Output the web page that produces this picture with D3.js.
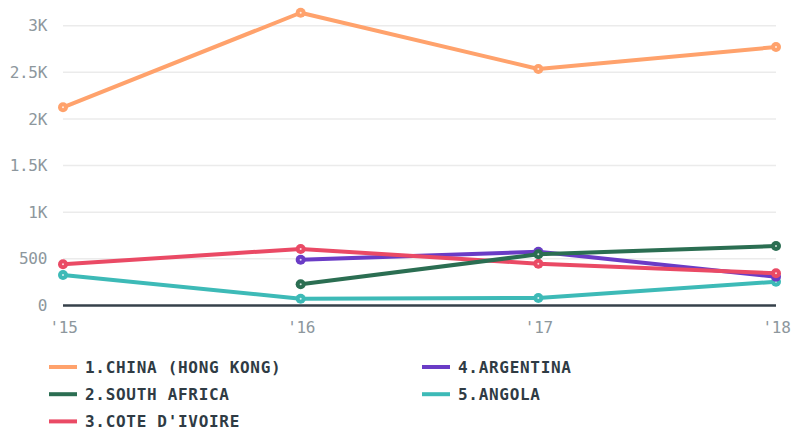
<!DOCTYPE html>
<head>
  <meta charset="utf-8">
  <script src="https://d3js.org/d3.v7.min.js"></script>
  <style>
    body { margin:0; background:#fff; font-family: "DejaVu Sans Mono", monospace; }
  </style>
</head>
<body>
  <script>
    var years = ["'15", "'16", "'17", "'18"];
    var names = ["1.CHINA (HONG KONG)", "2.SOUTH AFRICA", "3.COTE D'IVOIRE", "4.ARGENTINA", "5.ANGOLA"];
    var colors = ["#ffa26c", "#2b6e52", "#ea4a65", "#6a3cc6", "#3dbab7"];
    var china = [2125, 3139, 2536, 2771];
    var southAfrica = [null, 227, 549, 638];
    var coteDivoire = [442, 606, 448, 345];
    var argentina = [null, 491, 577, 309];
    var angola = [327, 73, 80, 255];
    var yTicks = [0, 500, 1000, 1500, 2000, 2500, 3000];
    var yTickLabels = ["0", "500", "1K", "1.5K", "2K", "2.5K", "3K"];

    var series = [china, southAfrica, coteDivoire, argentina, angola].map(function(v, i) {
      return { name: names[i], color: colors[i], values: v };
    });

    var width = 791, height = 429;
    var svg = d3.select("body").append("svg")
      .attr("width", width)
      .attr("height", height);

    var x = d3.scalePoint().domain(years).range([63, 776]);
    var y = d3.scaleLinear().domain([0, 3000]).range([305.5, 25.7]);

    // grid
    svg.append("g").selectAll("line")
      .data(yTicks.filter(function(d) { return d > 0; }))
      .enter().append("line")
      .attr("x1", x.range()[0]).attr("x2", x.range()[1])
      .attr("y1", function(d) { return y(d); })
      .attr("y2", function(d) { return y(d); })
      .attr("stroke", "#ebebeb")
      .attr("stroke-width", 1.5);

    var yaxis = d3.axisLeft(y)
      .tickValues(yTicks)
      .tickFormat(function(d, i) { return yTickLabels[i]; })
      .tickSize(0)
      .tickPadding(0);
    var ya = svg.append("g").attr("transform", "translate(47,0)").call(yaxis);
    ya.select(".domain").remove();
    ya.selectAll("text")
      .style("font-family", "DejaVu Sans Mono, monospace")
      .style("font-size", "16px")
      .style("letter-spacing", "-0.3px")
      .attr("fill", "#8d979d");

    var xaxis = d3.axisBottom(x).tickSize(0).tickPadding(0);
    var xa = svg.append("g").attr("transform", "translate(0,322)").call(xaxis);
    xa.select(".domain").remove();
    xa.selectAll("text")
      .style("font-family", "DejaVu Sans Mono, monospace")
      .style("font-size", "16px")
      .style("letter-spacing", "-0.3px")
      .attr("fill", "#8d979d");

    // baseline
    svg.append("line")
      .attr("x1", x.range()[0]).attr("x2", x.range()[1])
      .attr("y1", y(0)).attr("y2", y(0))
      .attr("stroke", "#36414a")
      .attr("stroke-width", 2.5);

    var line = d3.line()
      .defined(function(d) { return d != null; })
      .x(function(d, i) { return x(years[i]); })
      .y(function(d) { return y(d); });

    // draw last series first so earlier ones sit on top
    var drawOrder = series.slice().reverse();
    drawOrder.forEach(function(s) {
      var g = svg.append("g");
      g.append("path")
        .attr("d", line(s.values))
        .attr("fill", "none")
        .attr("stroke", s.color)
        .attr("stroke-width", 4)
        .attr("stroke-linejoin", "round")
        .attr("stroke-linecap", "round");
      var pts = s.values.map(function(v, i) { return { v: v, i: i }; })
        .filter(function(d) { return d.v != null; });
      g.selectAll(".dot").data(pts).enter().append("circle")
        .attr("cx", function(d) { return x(years[d.i]); })
        .attr("cy", function(d) { return y(d.v); })
        .attr("r", 5)
        .attr("fill", s.color);
      g.selectAll(".pip").data(pts).enter().append("circle")
        .attr("cx", function(d) { return x(years[d.i]); })
        .attr("cy", function(d) { return y(d.v); })
        .attr("r", 1)
        .attr("fill", "#fff")
        .attr("opacity", 0.8);
    });

    // legend
    var legend = svg.append("g").selectAll("g")
      .data(series)
      .enter().append("g")
      .attr("transform", function(d, i) {
        var col = i < 3 ? 0 : 1;
        var row = i < 3 ? i : i - 3;
        return "translate(" + (col ? 422 : 49) + "," + (367 + row * 27.2) + ")";
      });
    legend.append("line")
      .attr("x1", 0).attr("x2", 28)
      .attr("stroke", function(d) { return d.color; })
      .attr("stroke-width", 4);
    legend.append("text")
      .attr("x", 36)
      .attr("dy", "0.36em")
      .text(function(d) { return d.name; })
      .style("font-family", "DejaVu Sans Mono, monospace")
      .style("font-weight", "bold")
      .style("font-size", "16px")
      .style("letter-spacing", "0.7px")
      .attr("fill", "#2f3b44");
  </script>
</body>
